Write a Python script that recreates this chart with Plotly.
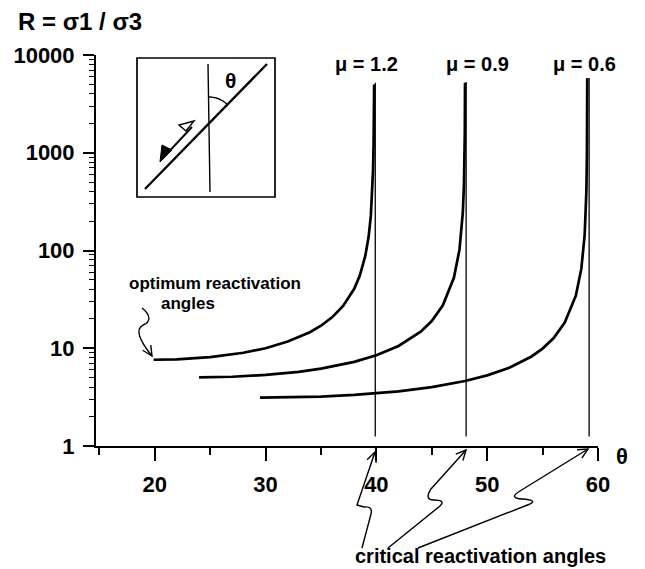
import math
import plotly.graph_objects as go

# Stress ratio R = sigma1/sigma3 needed to reactivate a fault at angle theta
theta_mu12 = [19.9, 22, 25, 28, 30, 32, 34, 35, 36, 37, 38, 38.5, 39, 39.3, 39.5, 39.6, 39.7, 39.75, 39.78, 39.8]
r_mu12 = [7.63, 7.71, 8.11, 9.0, 10.0, 11.7, 14.6, 17.0, 20.7, 27.1, 40.6, 55.1, 87.9, 138, 226, 338, 661, 1240, 2690, 5000]

theta_mu09 = [24, 27, 30, 33, 35, 38, 40, 42, 44, 45, 46, 47, 47.5, 47.8, 47.9, 47.95, 47.98, 48.0]
r_mu09 = [5.04, 5.11, 5.33, 5.74, 6.18, 7.25, 8.47, 10.55, 14.8, 19.0, 27.5, 52.8, 102, 242, 457, 822, 1573, 5200]

theta_mu06 = [29.5, 32, 35, 38, 40, 42, 45, 48, 50, 52, 54, 55, 56, 57, 58, 58.5, 58.8, 58.9, 58.95, 59.0, 59.02, 59.03]
r_mu06 = [3.12, 3.14, 3.20, 3.33, 3.45, 3.62, 4.0, 4.62, 5.28, 6.33, 8.24, 9.92, 12.7, 18.3, 34.5, 65.6, 146, 253, 400, 956, 2150, 5800]

# critical (lock-up) angles drawn as thin verticals
crit_theta = [39.9, 48.1, 59.2]
crit_r_top = [5200, 5300, 5800]
crit_r_base = 1.25

mu_labels = ["μ = 1.2", "μ = 0.9", "μ = 0.6"]

x_ticks = [20, 30, 40, 50, 60]
y_ticks = [1, 10, 100, 1000, 10000]
y_ticktext = ["1", "10", "100", "1000", "10000"]
y_minor = [m * 10 ** d for d in range(4) for m in range(2, 10)]

W, H = 645, 569
PL, PR, PT, PB = 96, 598, 55, 446  # plot box in pixels
FONT = "Liberation Sans, Arial, Helvetica, sans-serif"


def fx(px):
    return px / W


def fy(py):
    return 1 - py / H


def pt(p):
    return f"{p[0] / W:.5f},{1 - p[1] / H:.5f}"


def svg_path(cmds):
    return " ".join(c[0] + " " + " ".join(pt(p) for p in c[1:]) for c in cmds)


def head(tip, frm, size=11, spread=26):
    ang = math.atan2(frm[1] - tip[1], frm[0] - tip[0])
    a1, a2 = ang + math.radians(spread), ang - math.radians(spread)
    p1 = (tip[0] + size * math.cos(a1), tip[1] + size * math.sin(a1))
    p2 = (tip[0] + size * math.cos(a2), tip[1] + size * math.sin(a2))
    return [("M", p1), ("L", tip), ("L", p2)]


fig = go.Figure()

for th, r in [(theta_mu12, r_mu12), (theta_mu09, r_mu09), (theta_mu06, r_mu06)]:
    fig.add_trace(go.Scatter(x=th, y=r, mode="lines",
                             line=dict(color="black", width=2.7),
                             hoverinfo="skip", showlegend=False))

for tc, top in zip(crit_theta, crit_r_top):
    fig.add_trace(go.Scatter(x=[tc, tc], y=[crit_r_base, top], mode="lines",
                             line=dict(color="black", width=1.3),
                             hoverinfo="skip", showlegend=False))

shapes = []
thin = dict(color="black", width=1.4)

# inset sketch: fault at angle theta to sigma1
shapes.append(dict(type="rect", xref="paper", yref="paper",
                   x0=fx(137), x1=fx(275), y0=fy(197), y1=fy(58),
                   line=dict(color="black", width=1.7)))
shapes.append(dict(type="path", xref="paper", yref="paper",
                   path=svg_path([("M", (208, 64)), ("L", (210, 192))]), line=thin))
shapes.append(dict(type="path", xref="paper", yref="paper",
                   path=svg_path([("M", (145, 189)), ("L", (267, 64))]),
                   line=dict(color="black", width=2.3)))
arc = [(209 + 26 * math.sin(math.radians(a)), 123 - 26 * math.cos(math.radians(a)))
       for a in range(0, 46, 3)]
shapes.append(dict(type="path", xref="paper", yref="paper",
                   path=svg_path([("M", arc[0])] + [("L", p) for p in arc[1:]]), line=thin))
# shear-sense half arrows
shapes.append(dict(type="path", xref="paper", yref="paper",
                   path=svg_path([("M", (162, 159)), ("L", (192, 127))]),
                   line=dict(color="black", width=1.9)))
shapes.append(dict(type="path", xref="paper", yref="paper",
                   path=svg_path([("M", (160, 162)), ("L", (172, 150)), ("L", (162, 145)), ("Z",)]),
                   line=dict(color="black", width=1), fillcolor="black"))
shapes.append(dict(type="path", xref="paper", yref="paper",
                   path=svg_path([("M", (194, 121)), ("L", (179, 125)), ("L", (186, 131)), ("Z",)]),
                   line=dict(color="black", width=1.4), fillcolor="white"))

# squiggly pointer to the optimum angle
opt = [("M", (142, 308)), ("C", (151, 315), (151, 322), (143, 325)),
       ("C", (135, 329), (139, 340), (152, 356))]
shapes.append(dict(type="path", xref="paper", yref="paper", path=svg_path(opt), line=thin))
shapes.append(dict(type="path", xref="paper", yref="paper",
                   path=svg_path(head((152, 356), (145, 345))), line=thin))

# squiggly pointers to the critical angles
crit_paths = [
    ([("M", (362, 548)), ("L", (371, 514)), ("Q", (373, 506), (364, 507)),
      ("L", (357, 505)), ("L", (375, 452))], (375, 452), (370, 466)),
    ([("M", (388, 548)), ("L", (440, 506)), ("Q", (446, 500), (434, 500)),
      ("Q", (424, 500), (431, 489)), ("L", (466, 450))], (466, 450), (456, 461)),
    ([("M", (418, 548)), ("L", (530, 504)), ("Q", (538, 500), (522, 499)),
      ("Q", (508, 498), (520, 491)), ("L", (588, 449))], (588, 449), (576, 456)),
]
for cmds, tip, frm in crit_paths:
    shapes.append(dict(type="path", xref="paper", yref="paper", path=svg_path(cmds), line=thin))
    shapes.append(dict(type="path", xref="paper", yref="paper",
                       path=svg_path(head(tip, frm)), line=thin))


def label(text, x, y, size, bold=True):
    return dict(text=f"<b>{text}</b>" if bold else text, x=fx(x), y=fy(y),
                xref="paper", yref="paper", xanchor="center", yanchor="middle",
                showarrow=False, font=dict(family=FONT, size=size, color="black"))


annotations = [
    label("R = σ1 / σ3", 80, 22, 24),
    label("θ", 622, 456, 22),
    label("θ", 230, 81, 21),
    label("optimum reactivation", 215, 283, 17),
    label("angles", 188, 303, 17),
    label("critical reactivation angles", 480, 556, 20),
]
for txt, cx in zip(mu_labels, [366, 477, 584]):
    annotations.append(label(txt, cx, 64, 20))

axis_common = dict(showline=True, linewidth=2, linecolor="black", showgrid=False,
                   zeroline=False, ticks="outside", tickcolor="black", tickwidth=1.6,
                   automargin=False,
                   tickfont=dict(family=FONT, size=22, color="black", weight="bold"))

fig.update_layout(
    width=W, height=H,
    margin=dict(l=0, r=0, t=0, b=0),
    paper_bgcolor="white", plot_bgcolor="white",
    showlegend=False,
    font=dict(family=FONT, color="black"),
    xaxis=dict(domain=[fx(PL), fx(PR)], range=[14.7, 60], tickmode="array",
               tickvals=x_ticks, ticklen=13, ticklabelstandoff=5,
               minor=dict(dtick=5, tick0=0, ticks="outside", ticklen=7,
                          tickwidth=1.5, tickcolor="black", showgrid=False),
               **axis_common),
    yaxis=dict(type="log", domain=[fy(PB), fy(PT)], range=[0, 4], tickmode="array",
               tickvals=y_ticks, ticktext=y_ticktext, ticklen=11, ticklabelstandoff=4,
               minor=dict(tickmode="array", tickvals=y_minor, ticks="outside", ticklen=5,
                          tickwidth=1.2, tickcolor="black", showgrid=False),
               **axis_common),
    shapes=shapes,
    annotations=annotations,
)

fig.write_html("out.html")
